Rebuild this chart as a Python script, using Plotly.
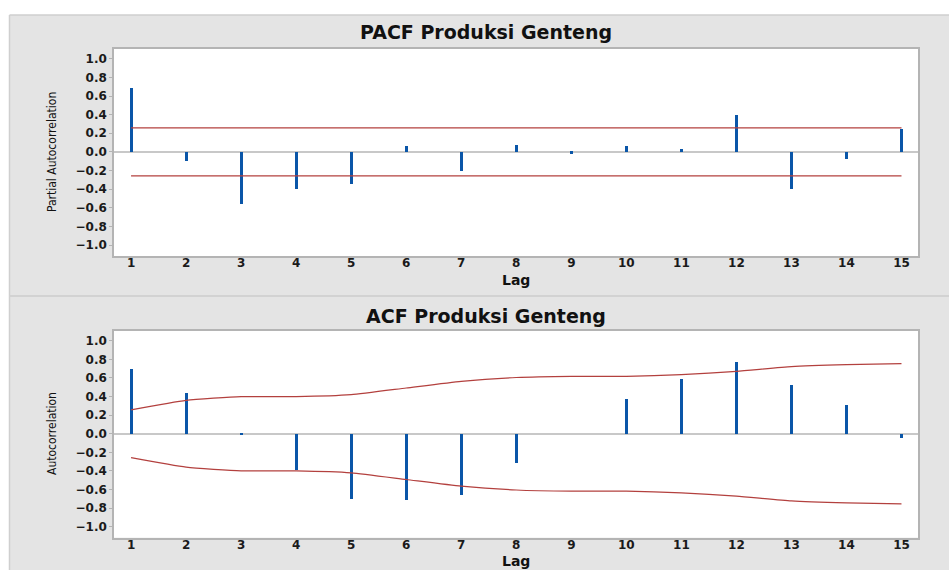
import plotly.graph_objects as go

lags = list(range(1, 16))
pacf_values = [0.69, -0.10, -0.56, -0.40, -0.34, 0.06, -0.20, 0.07, -0.02, 0.06, 0.03, 0.40, -0.40, -0.08, 0.25]
pacf_limit = [0.258] * 15
acf_values = [0.70, 0.434, -0.015, -0.395, -0.70, -0.715, -0.66, -0.31, 0.0, 0.377, 0.585, 0.772, 0.524, 0.312, -0.043]
acf_limit = [0.257, 0.359, 0.399, 0.399, 0.42, 0.492, 0.564, 0.605, 0.618, 0.618, 0.636, 0.671, 0.722, 0.743, 0.754]
y_ticks = [-1.0, -0.8, -0.6, -0.4, -0.2, 0.0, 0.2, 0.4, 0.6, 0.8, 1.0]

W, H = 949, 570
BAR = "#0a56a8"
RED = "#b3403e"
GREY_BG = "#e4e4e4"

def px(y):
    return 1 - y / H

fig = go.Figure()

# PACF
fig.add_trace(go.Bar(x=lags, y=pacf_values, width=0.055, marker=dict(color=BAR, line=dict(width=0)),
                     xaxis="x", yaxis="y", showlegend=False))
fig.add_trace(go.Scatter(x=lags, y=pacf_limit, mode="lines", line=dict(color=RED, width=1.2),
                         xaxis="x", yaxis="y", showlegend=False))
fig.add_trace(go.Scatter(x=lags, y=[-v for v in pacf_limit], mode="lines", line=dict(color=RED, width=1.2),
                         xaxis="x", yaxis="y", showlegend=False))
# ACF
fig.add_trace(go.Bar(x=lags, y=acf_values, width=0.055, marker=dict(color=BAR, line=dict(width=0)),
                     xaxis="x2", yaxis="y2", showlegend=False))
fig.add_trace(go.Scatter(x=lags, y=acf_limit, mode="lines", line=dict(color=RED, width=1.2, shape="spline", smoothing=0.5),
                         xaxis="x2", yaxis="y2", showlegend=False))
fig.add_trace(go.Scatter(x=lags, y=[-v for v in acf_limit], mode="lines", line=dict(color=RED, width=1.2, shape="spline", smoothing=0.5),
                         xaxis="x2", yaxis="y2", showlegend=False))

tickfont = dict(family="DejaVu Sans", size=12, color="#1a1a1a", weight="bold")
frame = dict(showline=True, mirror=True, linecolor="#b4b4b4", linewidth=1.5, showgrid=False)

xdom = [114 / W, 918 / W]
xax = dict(domain=xdom, range=[0.69, 15.3], tickvals=lags, ticks="", tickfont=tickfont,
           ticklabelstandoff=-5, zeroline=False, **frame)
yax = dict(range=[-1.118, 1.105], tickvals=y_ticks, tickformat=".1f", ticks="outside", ticklen=3,
           tickcolor="#b4b4b4", tickfont=tickfont, zeroline=True, zerolinecolor="#c8c8c8",
           zerolinewidth=2, **frame)

title_font = dict(family="DejaVu Sans", size=19, color="#111", weight="bold")
lag_font = dict(family="DejaVu Sans", size=14, color="#111", weight="bold")
ytitle_font = dict(family="Liberation Sans Narrow, DejaVu Sans Condensed, Liberation Sans, sans-serif",
                   size=12, color="#111")

fig.update_layout(
    width=W, height=H,
    margin=dict(l=0, r=0, t=0, b=0),
    paper_bgcolor=GREY_BG, plot_bgcolor="white",
    bargap=0,
    xaxis=dict(anchor="y", **xax),
    yaxis=dict(anchor="x", domain=[px(256), px(49)], **yax),
    xaxis2=dict(anchor="y2", **xax),
    yaxis2=dict(anchor="x2", domain=[px(537.7), px(331)], **yax),
    shapes=[
        dict(type="rect", xref="paper", yref="paper", x0=0, x1=1, y0=px(15), y1=1.01,
             fillcolor="white", line=dict(width=0), layer="below"),
        dict(type="rect", xref="paper", yref="paper", x0=-0.01, x1=9 / W, y0=-0.01, y1=1.01,
             fillcolor="white", line=dict(width=0), layer="below"),
        dict(type="line", xref="paper", yref="paper", x0=9.5 / W, x1=9.5 / W, y0=0, y1=px(15),
             line=dict(color="#cfcfcf", width=1.5), layer="below"),
        dict(type="line", xref="paper", yref="paper", x0=9.5 / W, x1=1, y0=px(15), y1=px(15),
             line=dict(color="#cfcfcf", width=1.5), layer="below"),
        dict(type="line", xref="paper", yref="paper", x0=9.5 / W, x1=1, y0=px(296), y1=px(296),
             line=dict(color="#d2d2d2", width=2), layer="below"),
    ],
    annotations=[
        dict(text="PACF Produksi Genteng", x=486 / W, y=px(32), xref="paper", yref="paper",
             showarrow=False, xanchor="center", yanchor="middle", font=title_font),
        dict(text="ACF Produksi Genteng", x=486 / W, y=px(316), xref="paper", yref="paper",
             showarrow=False, xanchor="center", yanchor="middle", font=title_font),
        dict(text="Lag", x=516 / W, y=px(280), xref="paper", yref="paper", showarrow=False,
             xanchor="center", yanchor="middle", font=lag_font),
        dict(text="Lag", x=516 / W, y=px(560.5), xref="paper", yref="paper", showarrow=False,
             xanchor="center", yanchor="middle", font=lag_font),
        dict(text="Partial Autocorrelation", x=52 / W, y=px(152), xref="paper", yref="paper",
             showarrow=False, textangle=-90, xanchor="center", yanchor="middle", font=ytitle_font),
        dict(text="Autocorrelation", x=52 / W, y=px(434), xref="paper", yref="paper",
             showarrow=False, textangle=-90, xanchor="center", yanchor="middle", font=ytitle_font),
    ],
)

fig.write_html("out.html", config={"displayModeBar": False},
               post_script="document.body.style.margin='0';document.body.style.overflow='hidden';")
